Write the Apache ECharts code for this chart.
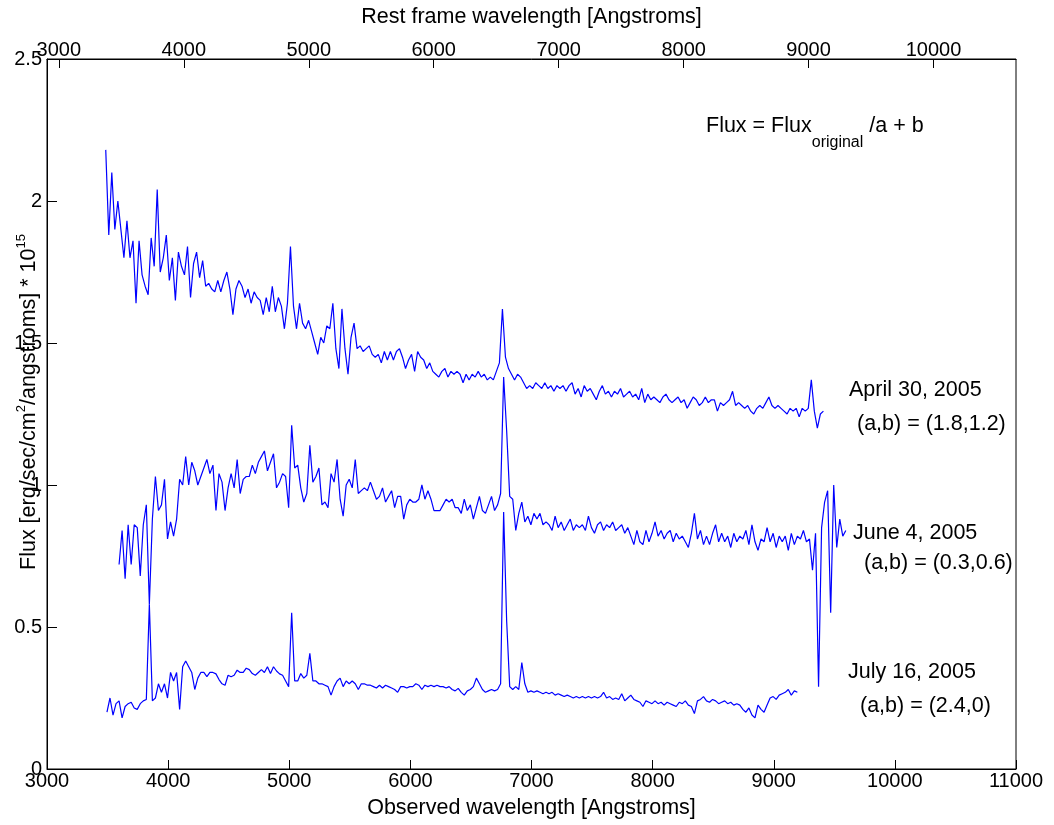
<!DOCTYPE html>
<html><head><meta charset="utf-8">
<script src="https://cdn.jsdelivr.net/npm/echarts@6/dist/echarts.min.js"></script>
<style>html,body{margin:0;padding:0;background:#fff}#c{width:1054px;height:825px}</style>
</head><body><div id="c"></div>
<script>
const step = 25;

// April 30, 2005  (a,b) = (1.8,1.2)
const aprilStart = 3485;
const aprilFlux = [
2.18,1.88,2.10,1.90,2.00,1.90,1.80,1.93,1.80,1.86,
1.64,1.86,1.74,1.70,1.67,1.87,1.77,2.04,1.75,1.80,
1.88,1.72,1.80,1.65,1.82,1.77,1.74,1.84,1.66,1.78,
1.82,1.73,1.79,1.70,1.71,1.69,1.68,1.72,1.68,1.72,
1.75,1.69,1.60,1.69,1.72,1.70,1.66,1.69,1.64,1.68,
1.66,1.65,1.60,1.66,1.61,1.70,1.61,1.66,1.63,1.55,
1.64,1.84,1.63,1.55,1.64,1.57,1.55,1.58,1.54,1.50,
1.46,1.52,1.50,1.56,1.55,1.64,1.48,1.41,1.62,1.48,
1.39,1.52,1.57,1.48,1.49,1.47,1.48,1.49,1.46,1.45,
1.46,1.43,1.47,1.44,1.47,1.44,1.47,1.48,1.45,1.41,
1.44,1.46,1.40,1.47,1.45,1.44,1.41,1.43,1.40,1.39,
1.38,1.40,1.41,1.38,1.40,1.39,1.40,1.39,1.36,1.39,
1.37,1.39,1.38,1.40,1.38,1.39,1.37,1.38,1.37,1.40,
1.43,1.62,1.45,1.41,1.39,1.37,1.39,1.38,1.36,1.34,
1.35,1.34,1.36,1.35,1.34,1.36,1.34,1.35,1.33,1.35,
1.34,1.35,1.33,1.35,1.36,1.32,1.34,1.31,1.35,1.33,
1.34,1.32,1.30,1.33,1.35,1.32,1.33,1.31,1.33,1.32,
1.34,1.31,1.32,1.33,1.31,1.32,1.30,1.34,1.29,1.32,
1.30,1.31,1.30,1.29,1.31,1.32,1.30,1.29,1.30,1.31,
1.29,1.30,1.27,1.29,1.31,1.30,1.28,1.29,1.31,1.29,
1.30,1.30,1.26,1.29,1.28,1.29,1.30,1.33,1.28,1.29,
1.28,1.27,1.28,1.26,1.25,1.27,1.28,1.27,1.29,1.31,
1.28,1.27,1.28,1.27,1.26,1.25,1.27,1.26,1.27,1.24,
1.27,1.26,1.27,1.37,1.26,1.20,1.25,1.26
];

// June 4, 2005  (a,b) = (0.3,0.6)
const juneStart = 3595;
const juneFlux = [
0.72,0.84,0.67,0.86,0.72,0.86,0.85,0.68,0.86,0.93,
0.58,0.88,1.03,0.91,0.93,1.02,0.81,0.87,0.82,0.88,
1.02,1.00,1.10,1.00,1.08,1.05,1.00,1.03,1.06,1.09,
1.04,1.07,0.91,1.04,1.01,0.91,0.99,1.04,0.99,1.09,
0.97,1.02,1.03,1.03,1.07,1.04,1.08,1.10,1.12,1.05,
1.08,1.11,0.99,1.01,1.04,1.03,0.92,1.21,1.06,1.07,
0.99,0.94,0.97,1.14,1.01,1.03,1.06,0.93,0.94,0.92,
1.04,1.01,1.09,0.95,0.89,1.00,1.02,0.99,1.09,0.97,
0.98,0.99,0.98,1.01,0.98,0.95,0.96,0.99,0.94,0.96,
0.98,0.92,0.96,0.96,0.88,0.93,0.95,0.94,0.94,0.95,
1.00,0.95,0.98,0.95,0.91,0.91,0.91,0.93,0.95,0.94,
0.95,0.92,0.92,0.90,0.95,0.91,0.93,0.88,0.92,0.96,
0.91,0.90,0.93,0.96,0.91,0.93,0.97,1.38,1.19,0.96,
0.95,0.84,0.90,0.94,0.87,0.89,0.86,0.90,0.88,0.90,
0.86,0.87,0.86,0.84,0.89,0.85,0.87,0.84,0.86,0.88,
0.84,0.86,0.85,0.86,0.84,0.89,0.85,0.83,0.86,0.87,
0.84,0.86,0.85,0.87,0.84,0.85,0.86,0.83,0.85,0.82,
0.79,0.84,0.80,0.79,0.84,0.80,0.83,0.87,0.82,0.84,
0.81,0.83,0.84,0.80,0.83,0.81,0.82,0.80,0.78,0.83,
0.90,0.81,0.84,0.79,0.82,0.79,0.83,0.86,0.80,0.83,
0.80,0.82,0.78,0.83,0.80,0.82,0.81,0.84,0.79,0.86,
0.80,0.77,0.81,0.80,0.85,0.80,0.83,0.78,0.82,0.80,
0.82,0.77,0.83,0.79,0.82,0.81,0.84,0.80,0.81,0.70,
0.83,0.29,0.85,0.94,0.98,0.55,1.00,0.78,0.88,0.82,0.84
];

// July 16, 2005  (a,b) = (2.4,0)
const julyStart = 3495;
const julyFlux = [
0.20,0.25,0.19,0.23,0.24,0.18,0.22,0.23,0.235,0.215,
0.21,0.23,0.24,0.245,0.58,0.24,0.25,0.30,0.27,0.30,
0.25,0.34,0.31,0.34,0.21,0.36,0.38,0.36,0.34,0.28,
0.32,0.34,0.34,0.325,0.34,0.34,0.335,0.315,0.30,0.295,
0.33,0.325,0.33,0.348,0.34,0.34,0.355,0.35,0.336,0.33,
0.34,0.35,0.34,0.36,0.336,0.36,0.345,0.335,0.33,0.31,
0.29,0.55,0.31,0.31,0.336,0.32,0.33,0.407,0.31,0.31,
0.30,0.30,0.295,0.29,0.26,0.29,0.31,0.32,0.29,0.31,
0.30,0.31,0.30,0.28,0.30,0.30,0.295,0.295,0.29,0.285,
0.295,0.285,0.295,0.29,0.285,0.28,0.27,0.29,0.29,0.285,
0.29,0.29,0.30,0.295,0.28,0.295,0.29,0.295,0.29,0.295,
0.29,0.29,0.285,0.29,0.28,0.275,0.284,0.27,0.26,0.275,
0.28,0.29,0.32,0.30,0.28,0.27,0.275,0.28,0.275,0.28,
0.30,0.905,0.52,0.29,0.28,0.29,0.28,0.375,0.30,0.27,
0.275,0.27,0.275,0.27,0.265,0.27,0.265,0.27,0.26,0.265,
0.26,0.255,0.26,0.255,0.25,0.255,0.25,0.255,0.25,0.255,
0.25,0.255,0.25,0.255,0.27,0.25,0.255,0.245,0.25,0.245,
0.265,0.24,0.25,0.26,0.245,0.24,0.235,0.22,0.24,0.235,
0.23,0.24,0.23,0.235,0.225,0.235,0.23,0.225,0.22,0.235,
0.23,0.24,0.225,0.22,0.195,0.24,0.245,0.255,0.24,0.235,
0.245,0.24,0.23,0.235,0.24,0.23,0.235,0.225,0.23,0.225,
0.21,0.20,0.215,0.19,0.18,0.225,0.21,0.20,0.225,0.25,
0.255,0.245,0.26,0.265,0.27,0.28,0.26,0.275,0.27
];

// Axis ranges / ticks
const obsMin = 3000, obsMax = 11000, obsInterval = 1000;
const restMin = 2905, restMax = 10660;
const restTicks = [3000,4000,5000,6000,7000,8000,9000,10000];
const fluxMin = 0, fluxMax = 2.5, fluxInterval = 0.5;

// Annotation texts
const labels = [
  {t:'April 30, 2005', x:849, y:390},
  {t:'(a,b) = (1.8,1.2)', x:857, y:424},
  {t:'June 4, 2005', x:853, y:533},
  {t:'(a,b) = (0.3,0.6)', x:864, y:563},
  {t:'July 16, 2005', x:848, y:672},
  {t:'(a,b) = (2.4,0)', x:860, y:706}
];

function toPairs(start, arr){ return arr.map((v,i)=>[start + i*step, v]); }
const plain = v => String(v);

const FONT = '"Liberation Sans", Arial, Helvetica, sans-serif';
const chart = echarts.init(document.getElementById('c'), null, {renderer:'canvas'});

const lineSeries = (name, data) => ({
  name, type:'line', data, xAxisIndex:0, yAxisIndex:0,
  showSymbol:false, symbol:'none', smooth:false,
  lineStyle:{color:'#0000ff', width:1.2}, itemStyle:{color:'#0000ff'},
  silent:true, animation:false
});

const option = {
  animation:false,
  backgroundColor:'#ffffff',
  textStyle:{fontFamily:FONT, color:'#000'},
  grid:{left:47, right:38, top:59, bottom:56, show:true, borderColor:'#000', borderWidth:1, backgroundColor:'transparent'},
  xAxis:[
    {type:'value', position:'bottom', min:obsMin, max:obsMax, interval:obsInterval,
     name:'Observed wavelength [Angstroms]', nameLocation:'middle', nameGap:28,
     nameTextStyle:{fontSize:21.5, color:'#000', fontFamily:FONT},
     axisLine:{show:true, lineStyle:{color:'#000', width:1}},
     axisTick:{show:true, inside:true, length:9, lineStyle:{color:'#000', width:1}},
     axisLabel:{fontSize:20, color:'#000', margin:2, fontFamily:FONT, formatter:plain},
     splitLine:{show:false}},
    {type:'value', position:'top', min:restMin, max:restMax,
     name:'Rest frame wavelength [Angstroms]', nameLocation:'middle', nameGap:31,
     nameTextStyle:{fontSize:21.5, color:'#000', fontFamily:FONT},
     axisLine:{show:true, lineStyle:{color:'#000', width:1}},
     axisTick:{show:true, inside:true, length:9, customValues:restTicks, lineStyle:{color:'#000', width:1}},
     axisLabel:{fontSize:20, color:'#000', margin:-1, customValues:restTicks, fontFamily:FONT, formatter:plain},
     splitLine:{show:false}}
  ],
  yAxis:[
    {type:'value', min:fluxMin, max:fluxMax, interval:fluxInterval,
     axisLine:{show:true, lineStyle:{color:'#000', width:1}},
     axisTick:{show:true, inside:true, length:10, lineStyle:{color:'#000', width:1}},
     axisLabel:{fontSize:20, color:'#000', margin:5, fontFamily:FONT, formatter:plain},
     splitLine:{show:false}}
  ],
  series:[
    lineSeries('April 30, 2005', toPairs(aprilStart, aprilFlux)),
    lineSeries('June 4, 2005', toPairs(juneStart, juneFlux)),
    lineSeries('July 16, 2005', toPairs(julyStart, julyFlux))
  ],
  graphic:[
    {type:'text', x:29, y:402, rotation:Math.PI/2, silent:true,
     style:{text:'{a|Flux [erg/sec/cm}{s|2}{a|/angstroms] * 10}{s|15}', align:'center', verticalAlign:'middle',
       fill:'#000', fontFamily:FONT,
       rich:{a:{fontSize:21.5, lineHeight:28, fontFamily:FONT, fill:'#000'},
             s:{fontSize:13, lineHeight:13, verticalAlign:'top', fontFamily:FONT, fill:'#000'}}}},
    {type:'text', x:706, y:115, silent:true,
     style:{text:'{a|Flux = Flux}{b|original}{a| /a + b}', align:'left', verticalAlign:'top',
       fill:'#000', fontFamily:FONT,
       rich:{a:{fontSize:21.5, lineHeight:26, verticalAlign:'top', fontFamily:FONT, fill:'#000'},
             b:{fontSize:16, lineHeight:16, padding:[20,0,0,0], verticalAlign:'top', fontFamily:FONT, fill:'#000'}}}}
  ].concat(labels.map(l => ({type:'text', x:l.x, y:l.y, silent:true,
     style:{text:l.t, fontSize:21.5, fontFamily:FONT, fill:'#000', align:'left', verticalAlign:'middle'}})))
};
chart.setOption(option);
</script>
</body></html>
